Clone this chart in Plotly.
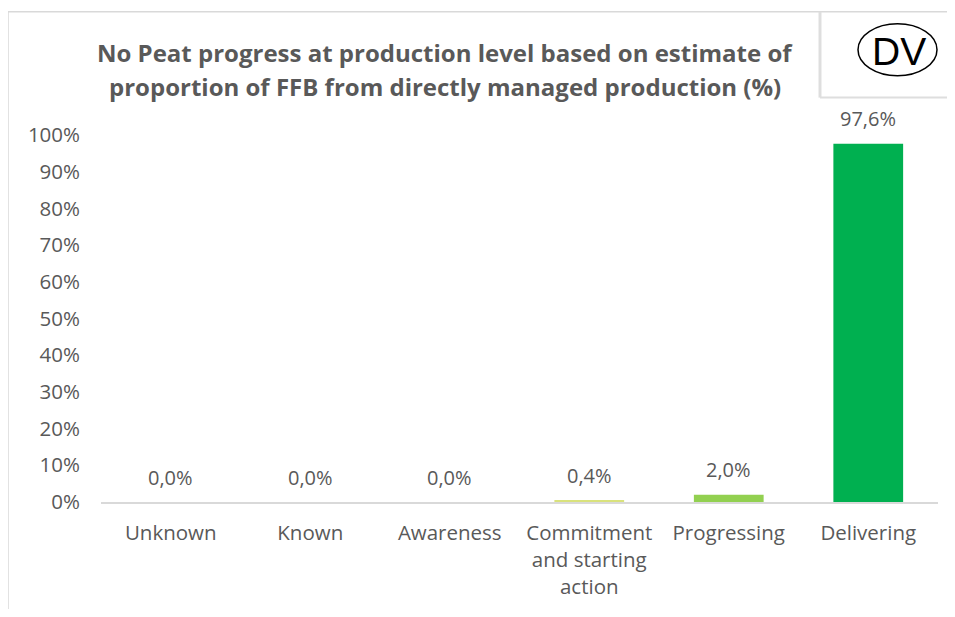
import plotly.graph_objects as go

categories = ["Unknown", "Known", "Awareness", "Commitment<br>and starting<br>action", "Progressing", "Delivering"]
values = [0.0, 0.0, 0.0, 0.4, 2.0, 97.6]
colors = ["#a6a6a6", "#ff0000", "#ffc000", "#d9e27c", "#92d050", "#00b050"]
y_ticks = list(range(0, 101, 10))
y_tick_labels = [f"{t}%" for t in y_ticks]
title_lines = ["No Peat progress at production level based on estimate of",
               "proportion of FFB from directly managed production (%)"]

labels = [f"{v:.1f}%".replace(".", ",") for v in values]

FONT = "Open Sans"
GREY = "#595959"
BORDER = "#d9d9d9"

# page body has an 8px margin on every side: keep the figure inside it and
# work in reference pixel coords shifted by OFF
OFF = 8
W, H = 955 - 2 * OFF, 617 - 2 * OFF
L, T = 101 - OFF, 134.5 - OFF
R = (OFF + W) - 938
B = (OFF + H) - 502.5
pw, ph = W - L - R, H - T - B
RIGHT_EDGE = OFF + W + 20
BOTTOM_EDGE = OFF + H + 20


def px_x(x):
    return (x - OFF - L) / pw


def px_y(y):
    return (H - B - (y - OFF)) / ph


fig = go.Figure(go.Bar(
    x=categories, y=values, marker_color=colors, marker_line_width=0,
    hoverinfo="x+y",
))

annotations = []
for c, v, t in zip(categories, values, labels):
    annotations.append(dict(x=c, y=v, xref="x", yref="y", text=t, showarrow=False,
                            yanchor="middle", yshift=25,
                            font=dict(family=FONT, size=20, color=GREY)))

for line, yc in zip(title_lines, [52, 86]):
    annotations.append(dict(text=f"<b>{line}</b>", xref="paper", yref="paper",
                            x=px_x(445), y=px_y(yc), xanchor="center", yanchor="middle",
                            showarrow=False, font=dict(family=FONT, size=24, color=GREY)))

annotations.append(dict(text="DV", xref="paper", yref="paper", x=px_x(899), y=px_y(51),
                        showarrow=False, xanchor="center", yanchor="middle",
                        font=dict(family="Liberation Sans", size=39, color="black")))


def seg(x0, y0, x1, y1, width=1.5, color=BORDER):
    return dict(type="line", xref="paper", yref="paper", x0=px_x(x0), y0=px_y(y0),
                x1=px_x(x1), y1=px_y(y1), line=dict(color=color, width=width), layer="above")


shapes = [
    seg(8, 11, RIGHT_EDGE, 11),          # chart border top
    seg(8, 11, 8, BOTTOM_EDGE),           # chart border left
    seg(820, 11, 820, 97, width=3, color="#dedede"),  # DV box left
    seg(820, 97, RIGHT_EDGE, 97, width=2, color="#dedede"),  # DV box bottom
    dict(type="circle", xref="paper", yref="paper", x0=px_x(858), x1=px_x(937),
         y0=px_y(23), y1=px_y(75), line=dict(color="black", width=1.5),
         fillcolor="rgba(0,0,0,0)", layer="above"),
]

fig.update_layout(
    width=W, height=H,
    margin=dict(l=L, r=R, t=T, b=B),
    paper_bgcolor="white", plot_bgcolor="white",
    showlegend=False,
    bargap=0.5,
    xaxis=dict(showline=True, linecolor=BORDER, linewidth=1.5, ticks="",
               tickfont=dict(family=FONT, size=20.5, color=GREY), ticklabelstandoff=12),
    yaxis=dict(range=[0, 100], tickvals=y_ticks, ticktext=y_tick_labels, showgrid=False,
               zeroline=False, showline=False, ticks="",
               tickfont=dict(family=FONT, size=20.5, color=GREY), ticklabelstandoff=20),
    shapes=shapes,
    annotations=annotations,
)

fig.write_html("out.html", config={"displayModeBar": False})
